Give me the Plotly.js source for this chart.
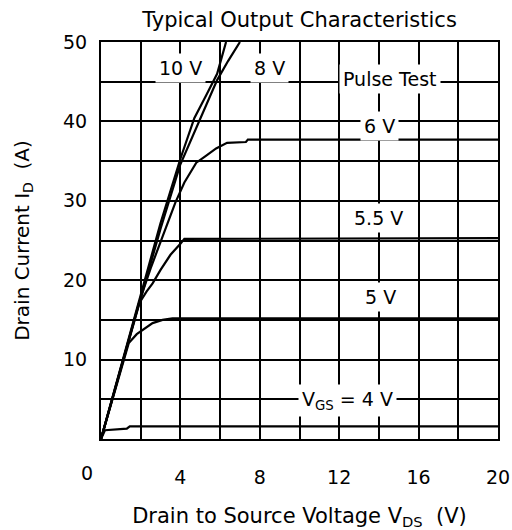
<!DOCTYPE html>
<html>
<head>
<meta charset="utf-8">
<script src="https://cdn.plot.ly/plotly-3.0.1.min.js"></script>
<style>html,body{margin:0;padding:0;background:#fff;}#chart{width:512px;height:530px;}</style>
</head>
<body>
<div id="chart"></div>
<script>
// ---- Data (V_DS in volts, I_D in amperes) ----
const vgs10_vds = [0, 1, 2, 3, 4, 4.7, 5.3, 5.85, 6.3];
const vgs10_id  = [0, 9.1, 18.2, 27.2, 35.3, 40.4, 43.3, 46.0, 50];

const vgs8_vds = [0, 1, 2, 3, 4, 5.0, 5.85, 6.4, 7.0];
const vgs8_id  = [0, 8.9, 17.8, 26.5, 34.6, 40.4, 45.2, 47.6, 50];

const vgs6_vds = [0, 1, 2, 2.5, 3, 3.5, 3.75, 4.2, 4.8, 5.25, 5.8, 6.35, 7.3, 7.4, 20];
const vgs6_id  = [0, 8.9, 17.8, 21.5, 24.8, 28, 29.8, 32.3, 34.8, 35.6, 36.6, 37.3, 37.4, 37.7, 37.7];

const vgs55_vds = [0, 1, 1.9, 2.3, 2.6, 3, 3.5, 4, 4.2, 20];
const vgs55_id  = [0, 8.9, 17, 18.6, 19.6, 21.3, 23.2, 24.6, 25.2, 25.3];

const vgs5_vds = [0, 1, 1.4, 1.8, 2.2, 2.6, 3.1, 3.6, 20];
const vgs5_id  = [0, 8.8, 12.1, 13.2, 13.9, 14.6, 15.0, 15.2, 15.2];

const vgs4_vds = [0, 0.2, 1.3, 1.45, 20];
const vgs4_id  = [0, 1.1, 1.3, 1.6, 1.6];

const xTickVals = [4, 8, 12, 16, 20];
const xTickText = ['4', '8', '12', '16', '20'];
const yTickVals = [10, 20, 30, 40, 50];
const yTickText = ['10', '20', '30', '40', '50'];

const curveLabels = ['10 V', '8 V', 'Pulse Test', '6 V', '5.5 V', '5 V', 'V<sub>GS</sub> = 4 V'];
const labelVds    = [4.0, 8.5, 14.55, 14.05, 14.0, 14.1, 12.4];
const labelId     = [46.7, 46.7, 45.4, 39.4, 27.8, 17.9, 4.9];

// ---- Drawing ----
const FONT = 'DejaVu Sans, Liberation Sans, Arial, sans-serif';
const series = [
  [vgs10_vds, vgs10_id], [vgs8_vds, vgs8_id], [vgs6_vds, vgs6_id],
  [vgs55_vds, vgs55_id], [vgs5_vds, vgs5_id], [vgs4_vds, vgs4_id]
];
const traces = series.map(s => ({
  x: s[0], y: s[1], type: 'scatter', mode: 'lines',
  line: {color: '#000', width: 2.2}, hoverinfo: 'skip', showlegend: false
}));

const annotations = curveLabels.map((t, i) => ({
  x: labelVds[i], y: labelId[i], xref: 'x', yref: 'y', text: t,
  showarrow: false, bgcolor: '#fff', borderpad: 3,
  font: {family: FONT, size: 19, color: '#000'},
  xanchor: 'center', yanchor: 'middle'
}));
// shared origin label "0" under the axis
annotations.push({
  x: 0, y: 0, xref: 'x', yref: 'y', text: '0', showarrow: false,
  xshift: -14, yshift: -34, font: {family: FONT, size: 19, color: '#000'},
  xanchor: 'center', yanchor: 'middle'
});

const axisCommon = {
  showline: true, mirror: true, linecolor: '#000', linewidth: 2,
  showgrid: true, gridcolor: '#000', gridwidth: 2, zeroline: false,
  ticks: '', fixedrange: true,
  tickfont: {family: FONT, size: 19, color: '#000'}
};

const layout = {
  width: 512, height: 530,
  margin: {l: 101, r: 14, t: 42, b: 91},
  paper_bgcolor: '#fff', plot_bgcolor: '#fff',
  title: {
    text: 'Typical Output Characteristics',
    font: {family: FONT, size: 21, color: '#000'},
    x: 0.5, xref: 'paper', xanchor: 'center',
    y: 1 - 20 / 530, yref: 'container', yanchor: 'middle'
  },
  xaxis: Object.assign({}, axisCommon, {
    range: [0, 20], tickmode: 'array', tickvals: xTickVals, ticktext: xTickText,
    ticklabelstandoff: 20,
    minor: {dtick: 2, tick0: 0, showgrid: true, gridcolor: '#000', gridwidth: 2},
    title: {text: 'Drain to Source Voltage V<sub>DS</sub>  (V)',
            font: {family: FONT, size: 21, color: '#000'}, standoff: 24}
  }),
  yaxis: Object.assign({}, axisCommon, {
    range: [0, 50], tickmode: 'array', tickvals: yTickVals, ticktext: yTickText,
    ticklabelstandoff: 8,
    minor: {dtick: 5, tick0: 0, showgrid: true, gridcolor: '#000', gridwidth: 2},
    title: {text: 'Drain Current I<sub>D</sub>  (A)',
            font: {family: FONT, size: 20, color: '#000'}, standoff: 28}
  }),
  annotations: annotations,
  showlegend: false
};

Plotly.newPlot('chart', traces, layout, {displayModeBar: false, staticPlot: true});
</script>
</body>
</html>
